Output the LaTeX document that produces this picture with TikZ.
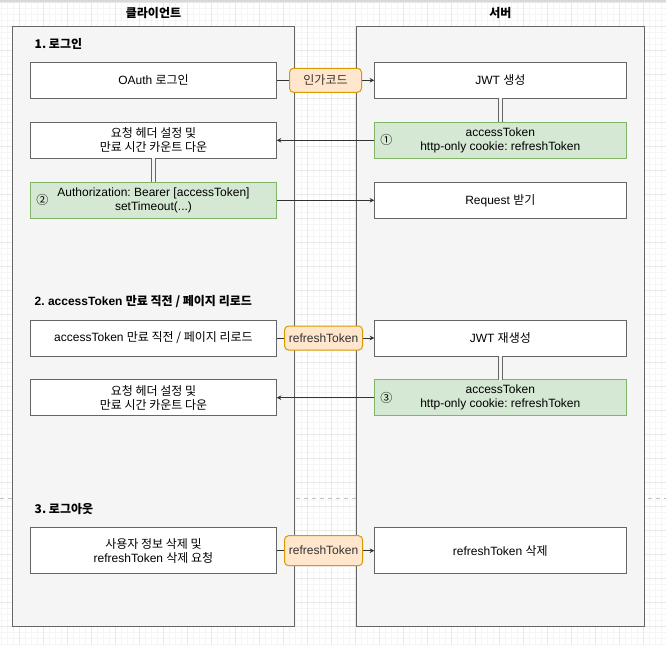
\documentclass[tikz,border=0pt]{standalone}
\usepackage{fontspec}
\setmainfont{Liberation Sans}
\newfontfamily\kr{Noto Sans CJK KR}
\usetikzlibrary{arrows.meta}
\frenchspacing

\definecolor{boxline}{HTML}{666666}
\definecolor{lanefill}{HTML}{F5F5F5}
\definecolor{okfill}{HTML}{D5E8D4}
\definecolor{okline}{HTML}{82B366}
\definecolor{tagfill}{HTML}{FFE6CC}
\definecolor{tagline}{HTML}{D79B00}
\definecolor{gridminor}{HTML}{F5F5F5}
\definecolor{gridmajor}{HTML}{E8E8E8}

\tikzset{
  lane/.style={draw=boxline, fill=lanefill, line width=0.75pt},
  cbox/.style={draw=boxline, fill=white, line width=0.75pt, minimum width=184.8pt,
    minimum height=27pt, inner sep=0pt, outer sep=0pt, align=center},
  sbox/.style={cbox, minimum width=189pt},
  okbox/.style={draw=okline, fill=okfill},
  tag/.style={draw=tagline, fill=tagfill, rounded corners=3pt, line width=0.75pt,
    minimum width=54pt, minimum height=18pt, inner sep=0pt},
  flow/.style={-{Stealth[length=3.5pt,width=3.5pt]}, line width=0.6pt, black!80},
  link/.style={draw=boxline, double=lanefill, double distance=2.4pt, line width=0.8pt},
  title/.style={font=\bfseries\fontsize{9}{10.5}\selectfont},
  section/.style={anchor=west, font=\bfseries\fontsize{9}{10.5}\selectfont},
}

\begin{document}
\begin{tikzpicture}[x=0.75pt, y=-0.75pt, every node/.append style={font=\fontsize{9}{10.5}\selectfont}]
  \useasboundingbox (0,0) rectangle (666,645);

  % editor grid
  \foreach \gx in {1.3,7.3,...,666} \draw[gridminor, line width=0.5pt] (\gx,0) -- (\gx,645);
  \foreach \gy in {2,8,...,645} \draw[gridminor, line width=0.5pt] (0,\gy) -- (666,\gy);
  \foreach \gx in {19.3,43.3,...,666} \draw[gridmajor, line width=0.6pt] (\gx,0) -- (\gx,645);
  \foreach \gy in {2,26,...,645} \draw[gridmajor, line width=0.6pt] (0,\gy) -- (666,\gy);
  \draw[black!15, line width=1.2pt] (0,0.8) -- (666,0.8);
  \draw[black!25, line width=0.6pt, dash pattern=on 3pt off 3pt] (0,498) -- (666,498);

  % lanes
  \draw[lane] (12.3,26.3) rectangle (294.7,626);
  \draw[lane] (356.3,26.3) rectangle (644.3,626);
  \node[title] (client) at (153.5,13) {\kr 클라이언트};
  \node[title] (server) at (500.3,13) {\kr 서버};

  % 1. login
  \node[section] (sec1) at (30,44) {\kr 1. 로그인};
  \node[cbox] (oauth) at (153.5,80.3) {OAuth {\kr 로그인}};
  \node[cbox] (req1) at (153.5,140.3) {\kr 요청 헤더 설정 및\\\kr 만료 시간 카운트 다운};
  \node[cbox, okbox] (auth) at (153.5,200.3) {Authorization: Bearer [accessToken]\\setTimeout(...)};
  \node[sbox] (jwt) at (500.3,80.3) {JWT {\kr 생성}};
  \node[sbox, okbox] (tok1) at (500.3,140.3) {accessToken\\http-only cookie: refreshToken};
  \node[sbox] (get) at (500.3,200.3) {Request {\kr 받기}};
  \node (n1) at ([xshift=9pt]tok1.west) {\kr ①};
  \node (n2) at ([xshift=9pt]auth.west) {\kr ②};

  \draw[flow] (oauth) -- node[tag] (code) {\kr 인가코드} (jwt);
  \draw[link] (jwt) -- (tok1);
  \draw[flow] (tok1) -- (req1);
  \draw[link] (req1) -- (auth);
  \draw[flow] (auth) -- (get);

  % 2. refresh
  \node[section] (sec2) at (30,301.7) {2. accessToken {\kr 만료 직전 / 페이지 리로드}};
  \node[cbox] (expire) at (153.5,338) {accessToken {\kr 만료 직전 / 페이지 리로드}};
  \node[cbox] (req2) at (153.5,397.7) {\kr 요청 헤더 설정 및\\\kr 만료 시간 카운트 다운};
  \node[sbox] (jwt2) at (500.3,338) {JWT {\kr 재생성}};
  \node[sbox, okbox] (tok3) at (500.3,397.7) {accessToken\\http-only cookie: refreshToken};
  \node (n3) at ([xshift=9pt]tok3.west) {\kr ③};

  \draw[flow] (expire) -- node[tag, minimum width=58.5pt, pos=0.48] (rt2) {refreshToken} (jwt2);
  \draw[link] (jwt2) -- (tok3);
  \draw[flow] (tok3) -- (req2);

  % 3. logout
  \node[section] (sec3) at (30,509) {\kr 3. 로그아웃};
  \node[cbox, minimum height=34.5pt] (logout) at (153.5,550.7) {\kr 사용자 정보 삭제 및\\refreshToken {\kr 삭제 요청}};
  \node[sbox, minimum height=34.5pt] (del) at (500.3,550.7) {refreshToken {\kr 삭제}};

  \draw[flow] (logout) -- node[tag, minimum width=58.5pt, minimum height=22.5pt, pos=0.48] (rt3) {refreshToken} (del);
\end{tikzpicture}
\end{document}
